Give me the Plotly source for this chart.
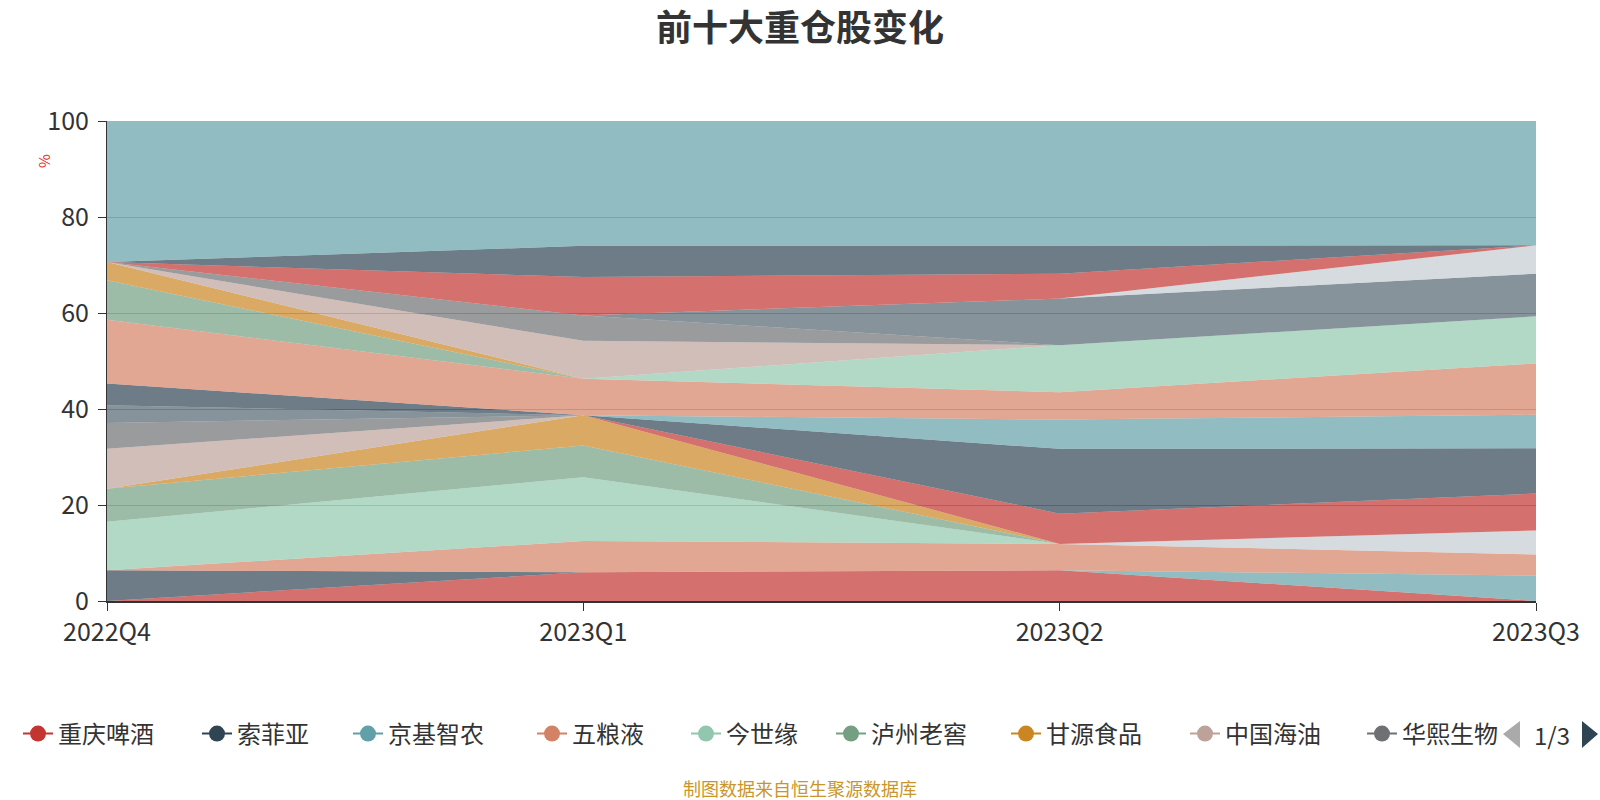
import plotly.graph_objects as go

# ---------------- data ----------------
quarters = ["2022Q4", "2023Q1", "2023Q2", "2023Q3"]

names = [
    "重庆啤酒", "索菲亚", "京基智农", "五粮液", "今世缘", "泸州老窖", "甘源食品", "中国海油", "华熙生物",
    "贵州茅台", "山西汾酒", "青岛啤酒", "伊利股份", "古井贡酒", "洋河股份", "舍得酒业", "海天味业", "盐津铺子",
    "东鹏饮料", "中国中免", "珀莱雅", "安井食品", "迎驾贡酒", "口子窖", "其他",
]

# share (%) per series, one list per quarter (same order as names)
q4_2022 = [0.0, 6.4, 0.0, 0.0, 10.1, 6.9, 0.0, 8.3, 5.4,
           3.7, 0.0, 0.0, 4.5, 0.0, 13.3, 0.0, 8.2, 3.8,
           0.0, 0.0, 0.0, 0.0, 0.0, 0.0, 29.4]
q1_2023 = [6.0, 0.0, 0.0, 6.5, 13.3, 6.6, 6.3, 0.0, 0.0,
           0.0, 0.0, 0.0, 0.0, 0.0, 7.6, 0.0, 0.0, 0.0,
           7.9, 5.3, 0.0, 0.0, 8.0, 6.5, 26.0]
q2_2023 = [6.4, 0.0, 0.0, 5.5, 0.0, 0.0, 0.0, 0.0, 0.0,
           0.0, 0.0, 6.3, 13.5, 6.1, 5.7, 9.8, 0.0, 0.0,
           0.0, 0.0, 9.7, 0.0, 5.2, 5.8, 26.0]
q3_2023 = [0.0, 0.0, 5.3, 4.4, 0.0, 0.0, 0.0, 0.0, 0.0,
           0.0, 5.0, 7.7, 9.4, 7.0, 10.7, 9.8, 0.0, 0.0,
           0.0, 0.0, 8.9, 5.9, 0.0, 0.0, 25.9]

y_ticks = [0, 20, 40, 60, 80, 100]
legend_page = "1/3"
legend_count = 9

title_text = "前十大重仓股变化"
source_text = "制图数据来自恒生聚源数据库"
y_unit = "%"

palette = ["#c23531", "#2f4554", "#61a0a8", "#d48265", "#91c7ae", "#749f83",
           "#ca8622", "#bda29a", "#6e7074", "#546570", "#c4ccd3"]

# ---------------- layout geometry ----------------
W, H = 1600, 800
L, R, T, B = 107, 64, 121, 199
PW, PH = W - L - R, H - T - B
FONT = "Noto Sans CJK SC"
LEGEND_Y = 734
# left pixel of each legend entry on the first legend page
legend_left_px = [18, 197, 348, 532, 686, 831, 1006, 1185, 1362]


def px_to_paper_x(px):
    return (px - L) / PW


def px_to_paper_y(py):
    return (H - B - py) / PH


def rgba(hex_color, a):
    h = hex_color.lstrip("#")
    r, g, b = int(h[0:2], 16), int(h[2:4], 16), int(h[4:6], 16)
    return f"rgba({r},{g},{b},{a})"


def tri_path(points):
    pts = [(px_to_paper_x(x), px_to_paper_y(y)) for x, y in points]
    return "M " + " L ".join(f"{x},{y}" for x, y in pts) + " Z"


fig = go.Figure()

for i, name in enumerate(names):
    c = palette[i % len(palette)]
    vals = [q4_2022[i], q1_2023[i], q2_2023[i], q3_2023[i]]
    fig.add_trace(go.Scatter(
        x=quarters, y=vals, name=name, stackgroup="one", mode="lines",
        line=dict(width=0, color=c), fillcolor=rgba(c, 0.7),
        showlegend=False, legendgroup=name,
    ))

legend_layouts = {}
for i in range(legend_count):
    c = palette[i % len(palette)]
    key = "legend" if i == 0 else f"legend{i + 1}"
    fig.add_trace(go.Scatter(
        x=[None], y=[None], mode="lines+markers", name=names[i],
        line=dict(color=c, width=2), marker=dict(color=c, size=16),
        legendgroup=names[i], showlegend=True, hoverinfo="skip", legend=key,
    ))
    legend_layouts[key] = dict(
        orientation="h", xref="container", yref="container",
        x=legend_left_px[i] / W, xanchor="left", y=(H - LEGEND_Y) / H, yanchor="middle",
        font=dict(size=24, color="#333333", family=FONT),
        itemsizing="trace", bgcolor="rgba(0,0,0,0)", borderwidth=0,
    )

fig.update_layout(
    width=W, height=H,
    margin=dict(l=L, r=R, t=T, b=B, autoexpand=False),
    paper_bgcolor="white", plot_bgcolor="white",
    font=dict(family=FONT, color="#333333"),
    title=dict(text=f"<b>{title_text}</b>", x=0.5, xref="container", xanchor="center",
               y=1 - 28 / H, yref="container", yanchor="middle",
               font=dict(size=36, color="#333333", family=FONT)),
    showlegend=True,
    xaxis=dict(type="category", range=[0, 3], showgrid=False, zeroline=False,
               showline=True, linecolor="#333333", linewidth=1.5,
               ticks="outside", ticklen=8, tickcolor="#333333",
               tickfont=dict(size=25, color="#333333", family=FONT)),
    yaxis=dict(range=[0, 100], tickvals=y_ticks, showgrid=True, gridcolor="#aeaeae",
               gridwidth=1, zeroline=False, showline=True, linecolor="#333333", linewidth=1,
               ticks="outside", ticklen=8, tickcolor="#333333", ticklabelstandoff=4,
               tickfont=dict(size=25, color="#333333", family=FONT)),
    annotations=[
        dict(text=y_unit, xref="paper", yref="paper", x=px_to_paper_x(43), y=px_to_paper_y(161),
             xanchor="center", yanchor="middle",
             showarrow=False, textangle=-90, font=dict(size=15, color="#e8281e", family=FONT)),
        dict(text=source_text, xref="paper", yref="paper", x=px_to_paper_x(800), y=px_to_paper_y(788),
             showarrow=False, xanchor="center", yanchor="middle",
             font=dict(size=18, color="#c9962b", family=FONT)),
        dict(text=legend_page, xref="paper", yref="paper", x=px_to_paper_x(1552), y=px_to_paper_y(LEGEND_Y),
             showarrow=False, xanchor="center", yanchor="middle",
             font=dict(size=24, color="#333333", family=FONT)),
    ],
    shapes=[
        dict(type="path", xref="paper", yref="paper", line=dict(width=0), fillcolor="#aaaaaa",
             path=tri_path([(1520, 721), (1503, LEGEND_Y), (1520, 748)])),
        dict(type="path", xref="paper", yref="paper", line=dict(width=0), fillcolor="#2f4554",
             path=tri_path([(1582, 721), (1598, LEGEND_Y), (1582, 748)])),
    ],
)
fig.update_layout(**legend_layouts)

fig.write_html(
    "out.html",
    config={"displayModeBar": False},
    post_script="document.body.style.margin='0';document.body.style.overflow='hidden';",
)
